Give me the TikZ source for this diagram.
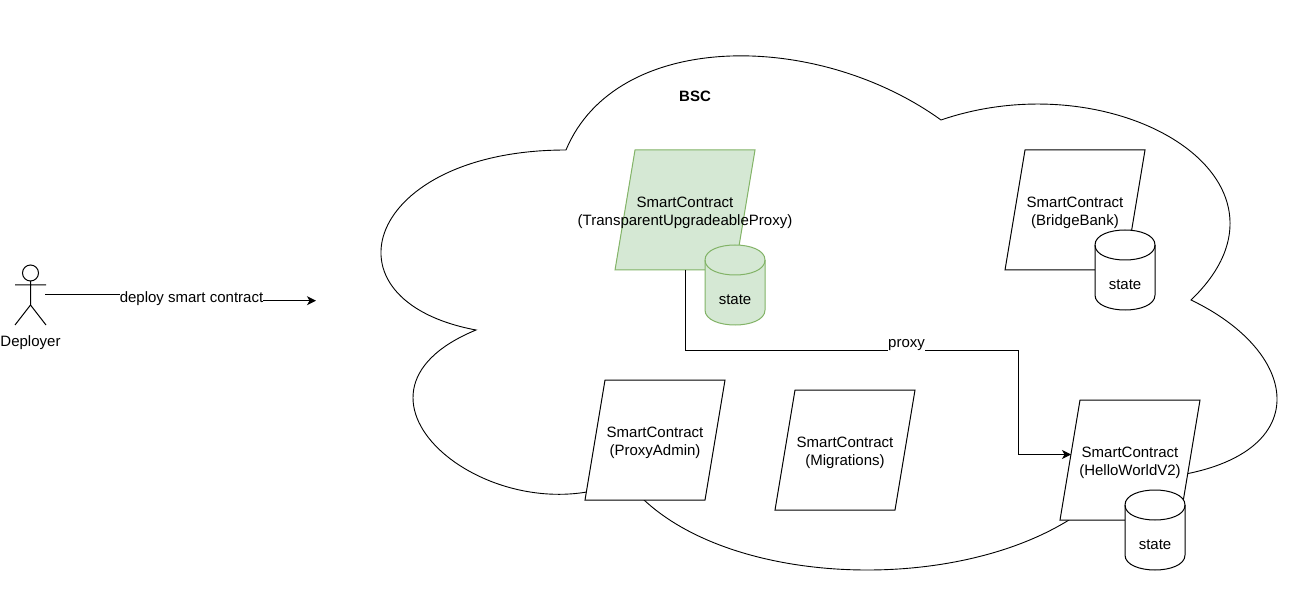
\documentclass[tikz,border=0pt]{standalone}
\usepackage{fontspec}
\setmainfont{Liberation Sans}
\usetikzlibrary{arrows.meta}
\definecolor{greenfill}{HTML}{D5E8D4}
\definecolor{greenline}{HTML}{82B366}
\newcommand{\statecyl}[5]{% name, x, y, fill, line
  \path[draw=#5,fill=#4,line width=1pt]
    (#2,#3+15) .. controls (#2,#3-5) and (#2+60,#3-5) .. (#2+60,#3+15)
    -- (#2+60,#3+65) .. controls (#2+60,#3+85) and (#2,#3+85) .. (#2,#3+65) -- cycle;
  \path[draw=#5,line width=1pt]
    (#2,#3+15) .. controls (#2,#3+35) and (#2+60,#3+35) .. (#2+60,#3+15);
  \node[txt] (#1) at (#2+30,#3+54.5) {state};
}
\newcommand{\contractshape}[4]{% name, cx, cy, style
  \path[#4] (#2-70,#3+60) -- (#2+50,#3+60) -- (#2+70,#3-60) -- (#2-50,#3-60) -- cycle;
  \node[minimum width=120pt,minimum height=120pt,inner sep=0pt,outer sep=0pt] (#1) at (#2,#3) {};
}
\tikzset{
  txt/.style={font=\fontsize{15pt}{18pt}\selectfont,align=center,inner sep=0pt,text=black},
  ctext/.style={txt,yshift=-3pt},
  para/.style={draw=black,fill=white,line width=1pt},
  greenpara/.style={draw=greenline,fill=greenfill,line width=1pt},
  conn/.style={draw=black,line width=1pt,-{Stealth[length=9pt,width=9pt,inset=2.5pt]}},
  lbl/.style={txt,fill=white,minimum height=18pt},
  outline/.style={draw=black,line width=0.9pt,line join=miter},
}
\begin{document}
\begin{tikzpicture}[x=1pt,y=-1pt]
\useasboundingbox (0,0) rectangle (1316,601);
% cloud
\def\W{1000}\def\H{600}
\begin{scope}[shift={(316,0)}]
\path[outline,fill=white]
  (.25*\W,.25*\H)
  .. controls (.05*\W,.25*\H) and (0,.5*\H) .. (.16*\W,.55*\H)
  .. controls (0,.66*\H) and (.18*\W,.9*\H) .. (.31*\W,.8*\H)
  .. controls (.4*\W,\H) and (.7*\W,\H) .. (.8*\W,.8*\H)
  .. controls (\W,.8*\H) and (\W,.6*\H) .. (.875*\W,.5*\H)
  .. controls (\W,.3*\H) and (.8*\W,.1*\H) .. (.625*\W,.2*\H)
  .. controls (.5*\W,.05*\H) and (.3*\W,.05*\H) .. (.25*\W,.25*\H) -- cycle;
\end{scope}
\node[txt,font=\fontsize{15pt}{18pt}\selectfont\bfseries] (bsc) at (695,96) {BSC};
% actor
\node[minimum width=30pt,minimum height=60pt,inner sep=0pt,outer sep=0pt] (actor) at (30,295) {};
\draw[line width=1pt] (30.5,273) circle (8);
\draw[line width=1pt] (30.5,281) -- (30.5,305) (15,285) -- (46,285) (15,325) -- (30.5,305) -- (46,325);
\node[txt] (deployer) at (30.5,343) {Deployer};
% deploy arrow
\coordinate (deployend) at (316,300.7);
\coordinate (deploymid) at (190,295);
\draw[conn] (actor.east) -- (deploymid) |- (deployend);
\node[lbl] (deploylabel) at (191.5,299) {deploy smart contract};
% contracts
\contractshape{proxyc}{685}{210}{greenpara}
\contractshape{bridge}{1075}{210}{para}
\contractshape{admin}{655}{440}{para}
\contractshape{migr}{845}{450}{para}
\contractshape{hello}{1130}{460}{para}
% proxy connector
\coordinate (bend) at (1018,350);
\coordinate (helloin) at (1071,454.5);
\draw[conn] (proxyc.south) |- (bend) |- (helloin);
\node[lbl] (proxylabel) at (906.5,345) {proxy};
% text of contracts
\node[ctext] at (proxyc.center) {SmartContract\\(TransparentUpgradeableProxy)};
\node[ctext] at (bridge.center) {SmartContract\\(BridgeBank)};
\node[ctext] at (admin.center) {SmartContract\\(ProxyAdmin)};
\node[ctext] at (migr.center) {SmartContract\\(Migrations)};
\node[ctext] at (hello.center) {SmartContract\\(HelloWorldV2)};
% state cylinders
\statecyl{s1}{705}{245}{greenfill}{greenline}
\statecyl{s2}{1095}{230}{white}{black}
\statecyl{s3}{1125}{490}{white}{black}
\end{tikzpicture}
\end{document}
